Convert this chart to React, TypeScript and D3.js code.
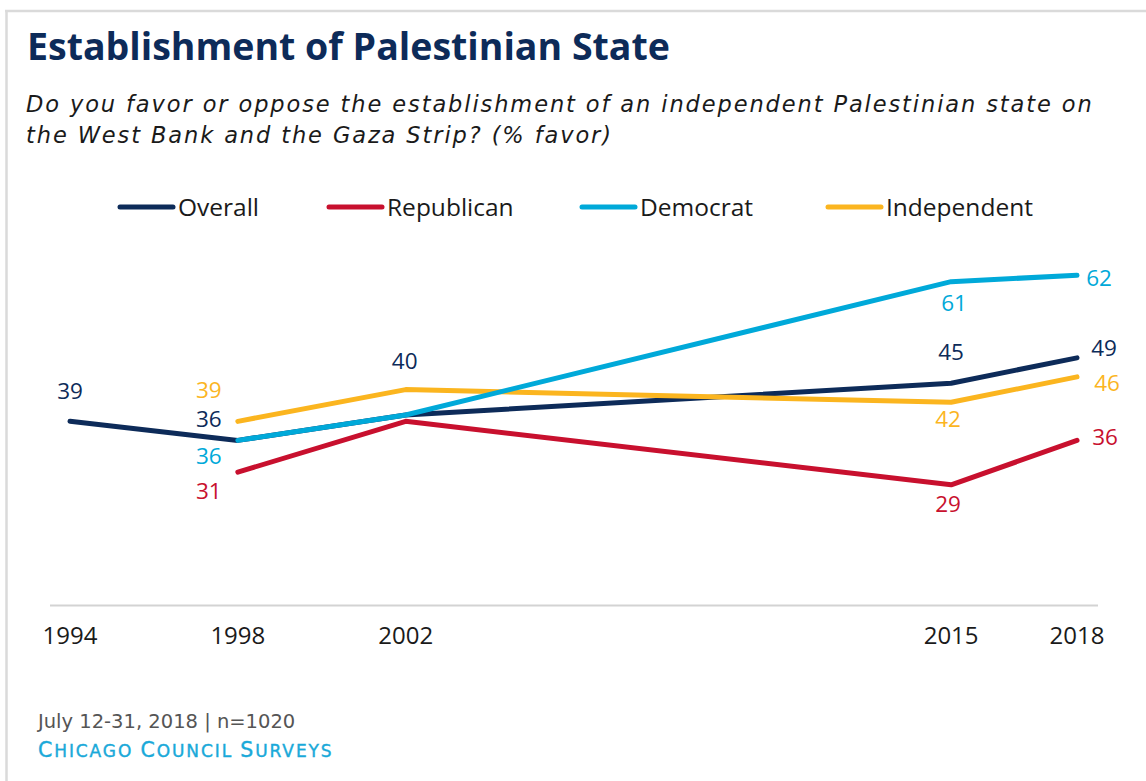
import React from "react";
import * as d3 from "d3";

const years = [1994, 1998, 2002, 2015, 2018];
const overall = [39, 36, 40, 45, 49];
const republican = [null, 31, 39, 29, 36];
const democrat = [null, 36, 40, 61, 62];
const independent = [null, 39, 44, 42, 46];
const seriesNames = ["Overall", "Republican", "Democrat", "Independent"];
const tickLabels = ["1994", "1998", "2002", "2015", "2018"];

// which points carry a value label
const labeled: Record<string, number[]> = {
  Overall: [1994, 1998, 2002, 2015, 2018],
  Republican: [1998, 2015, 2018],
  Democrat: [1998, 2015, 2018],
  Independent: [1998, 2015, 2018],
};

// label offsets (style/position, not data)
const labelOffsets: Record<string, Record<number, [number, number]>> = {
  Overall: { 1994: [0, -30], 1998: [-29, -21], 2002: [-1, -54], 2015: [0, -31], 2018: [27, -10] },
  Republican: { 1998: [-29, 19], 2015: [-3, 19], 2018: [28, -3] },
  Democrat: { 1998: [-29, 16], 2015: [3, 21], 2018: [22, 3] },
  Independent: { 1998: [-29, -31], 2015: [-3, 17], 2018: [30, 6] },
};

const colors: Record<string, string> = {
  Overall: "#0d2b59",
  Republican: "#c8102e",
  Democrat: "#00a9d9",
  Independent: "#fbb51f",
};

const seriesValues: Record<string, (number | null)[]> = {
  Overall: overall,
  Republican: republican,
  Democrat: democrat,
  Independent: independent,
};

const drawOrder = ["Overall", "Republican", "Independent", "Democrat"];
const legendX = [118, 327, 580, 826];

const FONT = "'Open Sans', 'Noto Sans', sans-serif";
const WIDE = "'DejaVu Sans', 'Open Sans', sans-serif";

export default function App() {
  const W = 1146;
  const H = 781;
  const x = d3.scaleLinear().domain([1994, 2018]).range([70, 1077]);
  const y = d3.scaleLinear().domain([10, 70]).range([605.5, 224.5]);

  const line = d3
    .line<{ year: number; v: number | null }>()
    .defined((d) => d.v != null)
    .x((d) => x(d.year))
    .y((d) => y(d.v as number))
    .curve(d3.curveLinear);

  return (
    <svg
      width={W}
      height={H}
      style={{ position: "absolute", left: 0, top: 0, background: "#fff" }}
      fontFamily={FONT}
    >
      <rect x={0} y={0} width={W} height={H} fill="#fff" />
      {/* frame */}
      <line x1={6.5} y1={11} x2={6.5} y2={H} stroke="#dadada" strokeWidth={2.5} />
      <line x1={5} y1={11} x2={W} y2={11} stroke="#dadada" strokeWidth={2.5} />

      <text x={27} y={60} fontSize={37.5} fontWeight={700} fill="#0d2b59">
        Establishment of Palestinian State
      </text>
      <text x={26} y={112} fontSize={22.5} fontStyle="italic" fill="#1a1a1a" fontFamily={WIDE} letterSpacing={1.9}>
        Do you favor or oppose the establishment of an independent Palestinian state on
      </text>
      <text x={26} y={143} fontSize={22.5} fontStyle="italic" fill="#1a1a1a" fontFamily={WIDE} letterSpacing={1.9}>
        the West Bank and the Gaza Strip? (% favor)
      </text>

      {/* legend */}
      {seriesNames.map((s, i) => (
        <g key={s}>
          <line
            x1={legendX[i] + 2}
            x2={legendX[i] + 55}
            y1={207}
            y2={207}
            stroke={colors[s]}
            strokeWidth={5}
            strokeLinecap="round"
          />
          <text x={legendX[i] + 60} y={207} dy="0.35em" fontSize={24.5} fill="#1a1a1a">
            {s}
          </text>
        </g>
      ))}

      {/* axis */}
      <line x1={50} x2={1098} y1={605.5} y2={605.5} stroke="#d3d3d3" strokeWidth={2} />
      {years.map((yr, i) => (
        <text
          key={yr}
          x={x(yr)}
          y={636}
          dy="0.35em"
          textAnchor="middle"
          fontSize={24}
          fill="#1a1a1a"
        >
          {tickLabels[i]}
        </text>
      ))}

      {/* lines */}
      {drawOrder.map((s) => {
        const pts = years.map((yr, i) => ({ year: yr, v: seriesValues[s][i] }));
        return (
          <path
            key={s}
            d={line(pts) || ""}
            fill="none"
            stroke={colors[s]}
            strokeWidth={5}
            strokeLinecap="round"
            strokeLinejoin="round"
          />
        );
      })}

      {/* value labels */}
      {seriesNames.map((s) =>
        years.map((yr, i) => {
          const v = seriesValues[s][i];
          if (v == null || !labeled[s].includes(yr)) return null;
          const off = labelOffsets[s][yr] || [0, -25];
          return (
            <text
              key={s + yr}
              x={x(yr) + off[0]}
              y={y(v) + off[1]}
              dy="0.35em"
              textAnchor="middle"
              fontSize={22.5}
              fill={colors[s]}
            >
              {v}
            </text>
          );
        })
      )}

      {/* footer */}
      <text x={38} y={728} fontSize={19.5} fill="#555" fontFamily={WIDE}>
        July 12-31, 2018 | n=1020
      </text>
      <text
        x={38}
        y={757}
        fill="#19a9d9"
        stroke="#19a9d9"
        strokeWidth={0.4}
        fontFamily={WIDE}
        letterSpacing={1.9}
      >
        <tspan fontSize={20.5}>C</tspan>
        <tspan fontSize={17}>HICAGO </tspan>
        <tspan fontSize={20.5}>C</tspan>
        <tspan fontSize={17}>OUNCIL </tspan>
        <tspan fontSize={20.5}>S</tspan>
        <tspan fontSize={17}>URVEYS</tspan>
      </text>
    </svg>
  );
}
